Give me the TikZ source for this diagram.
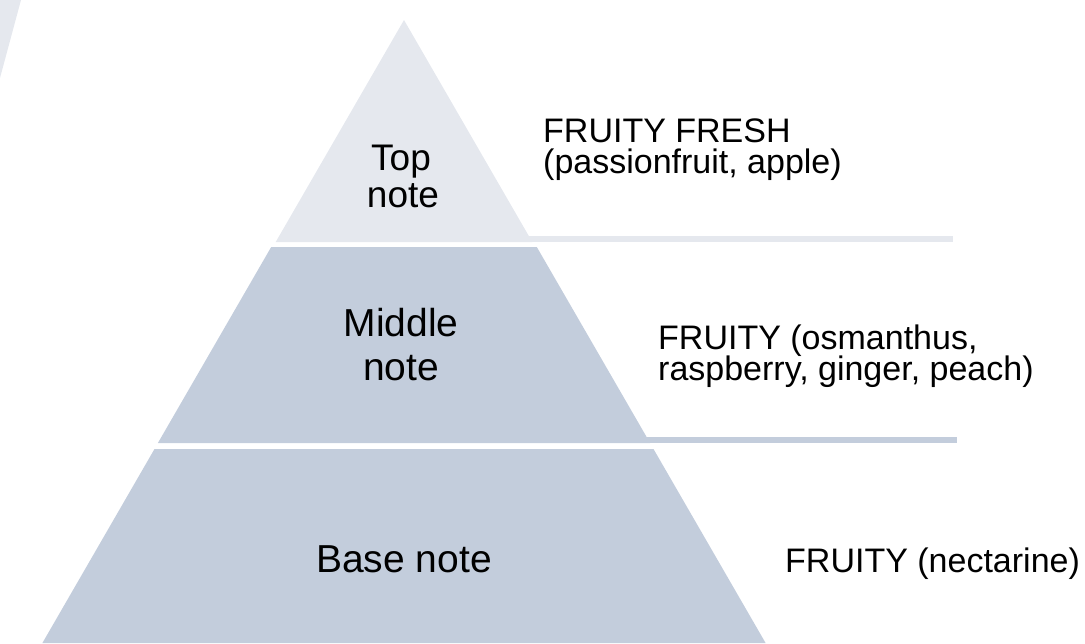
\documentclass[tikz,border=0pt]{standalone}
\usepackage{fontspec}
\setmainfont{Liberation Sans}
\definecolor{tierlight}{HTML}{E5E8EE}
\definecolor{tiermid}{HTML}{C3CDDC}
\tikzset{
  lbl/.style={anchor=base, inner sep=0pt, text=black},
  tierlbl/.style={lbl, font=\fontsize{39}{44}\selectfont},
  toplbl/.style={lbl, font=\fontsize{37}{37}\selectfont},
  desc/.style={anchor=base west, inner sep=0pt, text=black, font=\fontsize{34}{31}\selectfont},
}
\begin{document}
\begin{tikzpicture}[x=1pt,y=-1pt]
\useasboundingbox (0,0) rectangle (1085,643);
% faint corner shape
\fill[tierlight] (0,0) -- (21,0) -- (0,78) -- cycle;
% separator bars
\fill[tierlight] (520,236) rectangle (953,242);
\fill[tiermid] (640,437) rectangle (957,443);
% tiers
\fill[tierlight] (404,20) -- (532.3,242) -- (275.7,242) -- cycle;
\fill[tiermid] (271.2,247) -- (536.8,247) -- (650.1,443) -- (157.9,443) -- cycle;
\fill[tiermid] (154.5,449) -- (653.5,449) -- (765.6,643) -- (42.4,643) -- cycle;
% tier labels
\node[toplbl] (top1) at (401,170) {Top};
\node[toplbl] (top2) at (403,207) {note};
\node[tierlbl] (mid1) at (401,336) {Middle};
\node[tierlbl] (mid2) at (401,380) {note};
\node[tierlbl] (base1) at (404,572) {Base note};
% descriptions
\node[desc] (d1a) at (543,142) {FRUITY FRESH};
\node[desc] (d1b) at (543,173) {(passionfruit, apple)};
\node[desc] (d2a) at (658,349) {FRUITY (osmanthus,};
\node[desc] (d2b) at (658,380) {raspberry, ginger, peach)};
\node[desc] (d3) at (785,572) {FRUITY (nectarine)};
\end{tikzpicture}
\end{document}
